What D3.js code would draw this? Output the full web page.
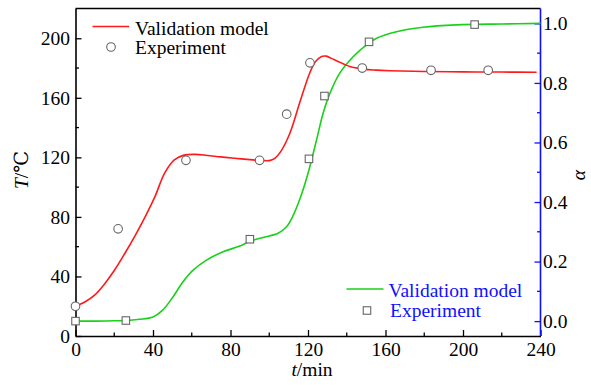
<!DOCTYPE html>
<html>
<head>
<meta charset="utf-8">
<script src="https://cdn.jsdelivr.net/npm/d3@7/dist/d3.min.js"></script>
<style>
  html, body { margin: 0; padding: 0; background: #fff; }
  svg text { font-family: "Liberation Serif", "Times New Roman", Tinos, "DejaVu Serif", serif; }
</style>
</head>
<body>
<svg id="chart" width="591" height="385"></svg>
<script>
// Temperature (T, °C) against time (t, min): model curve and measured points
const tempModelTime = [0, 5, 10, 15, 20, 25.5, 30.5, 36, 41, 46, 51, 56, 62, 68, 75, 82, 90, 96, 100, 103, 106, 110.6, 115.8, 121, 124, 127, 129.5, 132, 135, 141.6, 148.4, 155, 162, 180, 200, 220, 238];
const tempModelValue = [20, 23, 27.6, 35, 44, 55.6, 66.8, 80.2, 93.6, 109.4, 118.3, 121.5, 122, 121.3, 120.3, 119.4, 118.5, 117.9, 117.8, 119.5, 124, 136, 157, 177, 184.5, 187.8, 188, 186.5, 184.8, 181, 179.3, 178.6, 178.2, 177.7, 177.4, 177.3, 177.2];
const tempExpTime = [0, 22, 57, 95, 109, 121, 148, 183.5, 213];
const tempExpValue = [20, 72, 118, 118, 149, 183.5, 180, 178.5, 178.5];

// Conversion degree (alpha) against time: model curve and measured points
const alphaModelTime = [0, 10, 20, 28, 33, 40, 45, 50.4, 55.5, 60.7, 67.6, 76.2, 84.8, 90, 96.8, 104.6, 108.9, 112, 115.8, 120, 124.4, 127.8, 131.3, 136.4, 143.3, 150.2, 155.4, 165.7, 179.4, 196.6, 220, 240];
const alphaModelValue = [0, 0, 0.001, 0.003, 0.006, 0.014, 0.037, 0.082, 0.132, 0.171, 0.205, 0.233, 0.252, 0.268, 0.281, 0.295, 0.317, 0.35, 0.41, 0.496, 0.608, 0.698, 0.765, 0.833, 0.888, 0.928, 0.95, 0.972, 0.987, 0.995, 0.998, 1.0];
const alphaExpTime = [0, 26, 90, 120.5, 128.5, 151.5, 206];
const alphaExpValue = [0, 0.002, 0.275, 0.545, 0.756, 0.938, 0.996];

// Axis ticks
const timeTicks = [0, 40, 80, 120, 160, 200, 240];
const tempTicks = [0, 40, 80, 120, 160, 200];
const alphaTicks = [0.0, 0.2, 0.4, 0.6, 0.8, 1.0];

const plotLeft = 75.5, plotRight = 540.5, plotTop = 8.5, plotBottom = 336;
const FONT = "'Liberation Serif', 'Times New Roman', Tinos, 'DejaVu Serif', serif";

const svg = d3.select("#chart");

const x = d3.scaleLinear().domain([0, 240]).range([plotLeft, plotRight]);
const yT = d3.scaleLinear().domain([0, 220]).range([plotBottom, plotTop]);
const yA = d3.scaleLinear().domain([-0.05, 1.05]).range([plotBottom, plotTop]);

const RED = "#ff1a1a", GREEN = "#19d119", BLUE = "#1010ff", MARK = "#666";
const FS = 19.5;

// frame: top border
svg.append("line").attr("x1", plotLeft).attr("x2", plotRight).attr("y1", plotTop).attr("y2", plotTop)
  .attr("stroke", "#000").attr("stroke-width", 1.3);

function styleAxis(g, color) {
  g.attr("font-family", FONT).attr("font-size", FS);
  g.select(".domain").attr("stroke", color).attr("stroke-width", 1.6);
  g.selectAll(".tick line").attr("stroke", color).attr("stroke-width", 1.3);
  g.selectAll(".tick text").attr("fill", "#000").attr("font-size", FS).attr("font-family", FONT);
}

function minorTicks(g, scale, vals, orient, len, color) {
  vals.forEach(v => {
    const p = scale(v);
    const l = g.append("line").attr("stroke", color).attr("stroke-width", 1.3);
    if (orient === "bottom") l.attr("x1", p).attr("x2", p).attr("y1", 0).attr("y2", -len);
    if (orient === "left") l.attr("y1", p).attr("y2", p).attr("x1", 0).attr("x2", len);
    if (orient === "right") l.attr("y1", p).attr("y2", p).attr("x1", 0).attr("x2", -len);
  });
}

// bottom axis (time)
const gx = svg.append("g").attr("transform", `translate(0,${plotBottom})`)
  .call(d3.axisBottom(x).tickValues(timeTicks).tickSizeInner(-6).tickSizeOuter(0).tickPadding(6.5).tickFormat(d3.format("d")));
styleAxis(gx, "#000");
minorTicks(gx, x, d3.range(20, 240, 40), "bottom", 3.5, "#000");

// left axis (temperature)
const gy = svg.append("g").attr("transform", `translate(${plotLeft},0)`)
  .call(d3.axisLeft(yT).tickValues(tempTicks).tickSizeInner(-6).tickSizeOuter(0).tickPadding(5.5).tickFormat(d3.format("d")));
styleAxis(gy, "#000");
minorTicks(gy, yT, d3.range(20, 220, 40), "left", 3.5, "#000");

// right axis (alpha)
const ga = svg.append("g").attr("transform", `translate(${plotRight},0)`)
  .call(d3.axisRight(yA).tickValues(alphaTicks).tickSizeInner(-6).tickSizeOuter(0).tickPadding(2.5).tickFormat(d3.format(".1f")));
styleAxis(ga, BLUE);
ga.select(".domain").attr("d", `M0,${plotBottom}V${plotTop}`);
minorTicks(ga, yA, [0.1, 0.3, 0.5, 0.7, 0.9], "right", 3.5, BLUE);

// axis titles
const tTitle = svg.append("text").attr("transform", "translate(28,170) rotate(-90)")
  .attr("text-anchor", "middle").attr("font-size", FS).attr("font-family", FONT);
tTitle.append("tspan").attr("font-style", "italic").text("T");
tTitle.append("tspan").text("/℃");

const xTitle = svg.append("text").attr("x", 312).attr("y", 376)
  .attr("text-anchor", "middle").attr("font-size", FS).attr("font-family", FONT);
xTitle.append("tspan").attr("font-style", "italic").text("t");
xTitle.append("tspan").text("/min");

svg.append("text").attr("transform", "translate(585,175) rotate(-90)")
  .attr("text-anchor", "middle").attr("font-size", FS).attr("font-family", FONT)
  .attr("font-style", "italic").text("α");

// curves
const tempModel = tempModelTime.map((t, i) => [t, tempModelValue[i]]);
const alphaModel = alphaModelTime.map((t, i) => [t, alphaModelValue[i]]);

svg.append("path").datum(alphaModel)
  .attr("d", d3.line().x(d => x(d[0])).y(d => yA(d[1])).curve(d3.curveCatmullRom.alpha(0.5)))
  .attr("fill", "none").attr("stroke", GREEN).attr("stroke-width", 1.6);

svg.append("path").datum(tempModel)
  .attr("d", d3.line().x(d => x(d[0])).y(d => yT(d[1])).curve(d3.curveCatmullRom.alpha(0.5)))
  .attr("fill", "none").attr("stroke", RED).attr("stroke-width", 1.6);

// measured points
svg.append("g").selectAll("circle").data(tempExpTime.map((t, i) => [t, tempExpValue[i]]))
  .join("circle").attr("cx", d => x(d[0])).attr("cy", d => yT(d[1])).attr("r", 4.3)
  .attr("fill", "#fff").attr("stroke", MARK).attr("stroke-width", 1.1);

const sq = 7.5;
svg.append("g").selectAll("rect").data(alphaExpTime.map((t, i) => [t, alphaExpValue[i]]))
  .join("rect").attr("x", d => x(d[0]) - sq / 2).attr("y", d => yA(d[1]) - sq / 2)
  .attr("width", sq).attr("height", sq)
  .attr("fill", "#fff").attr("stroke", MARK).attr("stroke-width", 1.1);

// legend for temperature
const lg1 = svg.append("g").attr("font-family", FONT).attr("font-size", FS);
lg1.append("line").attr("x1", 92.5).attr("x2", 129).attr("y1", 26.5).attr("y2", 26.5)
  .attr("stroke", RED).attr("stroke-width", 1.6);
lg1.append("text").attr("x", 135).attr("y", 34.5).text("Validation model");
lg1.append("circle").attr("cx", 111).attr("cy", 47).attr("r", 4.3)
  .attr("fill", "#fff").attr("stroke", MARK).attr("stroke-width", 1.1);
lg1.append("text").attr("x", 135).attr("y", 53.5).text("Experiment");

// legend for alpha
const lg2 = svg.append("g").attr("font-family", FONT).attr("font-size", FS);
lg2.append("line").attr("x1", 346.5).attr("x2", 383.5).attr("y1", 289).attr("y2", 289)
  .attr("stroke", GREEN).attr("stroke-width", 1.6);
lg2.append("text").attr("x", 388.5).attr("y", 296.5).attr("fill", BLUE).text("Validation model");
lg2.append("rect").attr("x", 367 - sq / 2).attr("y", 310.5 - sq / 2).attr("width", sq).attr("height", sq)
  .attr("fill", "#fff").attr("stroke", MARK).attr("stroke-width", 1.1);
lg2.append("text").attr("x", 390).attr("y", 316.5).attr("fill", BLUE).text("Experiment");
</script>
</body>
</html>
